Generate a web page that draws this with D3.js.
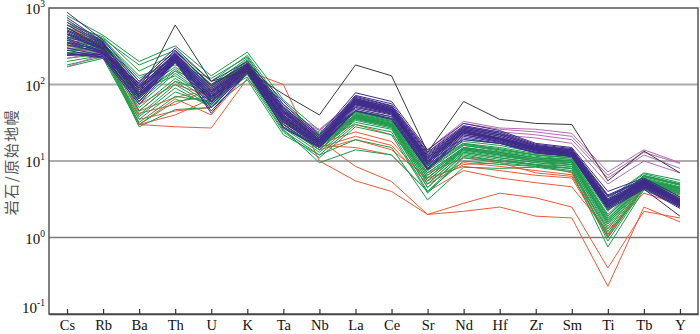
<!DOCTYPE html>
<html><head><meta charset="utf-8">
<script src="https://cdn.jsdelivr.net/npm/d3@7"></script>
<style>body{margin:0;background:#fff}svg{display:block}</style>
</head><body>
<svg id="c" width="700" height="334"></svg>
<script>
const elements = ["Cs","Rb","Ba","Th","U","K","Ta","Nb","La","Ce","Sr","Nd","Hf","Zr","Sm","Ti","Tb","Y"];
const yTickValues = [0.1, 1, 10, 100, 1000];
const yTickExponents = ["-1","0","1","2","3"];
const yTitle = "岩石/原始地幔";

const blackSeries = [
  [550,300,75,600,110,150,75,40,180,130,13,60,35,31,30,5.5,13.5,7]
];
const redSeries = [
  [550,350,30,28,27,120,35,15,21,16,5,9,9.5,7,6.3,1.1,4.9,3.4],
  [450,330,30,65,40,140,30,14,19,14,6,8.5,7.5,6.5,6,1.0,4.5,3.2],
  [380,300,42,55,90,170,40,16,15,12,4,7.5,6,5.2,4.6,1.2,3.8,2.7],
  [350,280,30,40,65,150,100,10,5.5,4,2,2.2,2.5,1.9,1.8,0.23,2.5,1.6],
  [320,260,35,45,50,160,30,19,8.5,5.4,2,2.8,3.8,3.3,2.5,0.4,2.2,1.8],
  [500,320,55,100,70,180,45,20,30,22,7,11,10,9,7,1.3,5,3.8],
  [600,360,45,68,85,175,38,17,24,18,5.5,9.5,8.5,7.5,6.6,1.05,4.7,3.3]
];
const greenSeries = [
  [800,440,200,320,130,265,63,25,63,45,11.5,19,17,14,12.7,3.2,7,5.6],
  [650,400,180,280,110,240,55,23,55,42,10,18,16,13,12,3.0,6.8,5.2],
  [600,420,150,250,100,220,50,22,45,38,9,17,15,12.5,11.5,2.6,6.5,5.0],
  [500,380,120,220,95,200,45,20,42,34,8,16,14,12,11,2.3,6.2,4.8],
  [450,360,100,200,90,210,42,19,40,33,7.5,16,13.5,11.5,10.5,2.2,6.0,4.6],
  [420,350,90,190,85,190,40,18,40,32,7,15,13,11,10.5,2.0,5.8,4.5],
  [380,330,80,170,80,185,38,17,39,31,6.5,15,13,11,10,1.9,5.7,4.4],
  [350,320,70,160,75,180,36,17,38,30,6,14.5,12.5,10.5,10,1.8,5.6,4.3],
  [330,300,60,150,70,175,35,16,38,30,6,14,12,10.5,9.5,1.7,5.5,4.2],
  [300,290,55,140,65,170,34,16,37,29,5.5,14,12,10,9.5,1.6,5.4,4.1],
  [280,280,50,120,60,165,33,15,36,29,5.5,13.5,11.5,10,9,1.6,5.3,4.0],
  [260,270,45,110,55,160,32,15,36,28,5,13,11,9.5,9,1.5,5.2,3.9],
  [240,260,40,100,52,150,30,14,35,28,5,13,11,9.5,8.5,1.4,5.1,3.8],
  [220,250,38,90,50,145,28,14,34,27,4.5,12.5,10.5,9,8.5,1.3,5.0,3.7],
  [200,240,35,80,55,140,27,13,32,26,4.5,12,10,9,8,1.2,4.8,3.6],
  [180,230,32,70,60,135,25,12,30,24,4,11.5,10,8.8,8,1.1,4.6,3.4],
  [170,220,30,60,70,125,24,11,28,22,3.8,11,9.5,8.5,7.5,1.0,4.5,3.2],
  [250,260,28,47,50,115,22,12,19,15,3.1,8.3,8,8.3,7.2,0.75,4.2,2.6],
  [400,350,110,240,95,200,46,21,44,36,9,17,14,12,11,2.4,6.3,4.9],
  [550,390,130,180,120,230,48,21,43,35,8.5,16.5,14.5,12,11,2.5,6.4,5.0],
  [320,310,65,200,90,190,37,16,41,33,7,15,13,11,10,1.9,5.8,4.4],
  [350,340,85,130,65,175,33,15,39,31,6.5,14.5,12.5,10.5,9.5,1.7,5.5,4.3],
  [450,370,45,110,80,160,30,14,37,30,6,14,12,10,9,1.5,5.2,4.0],
  [280,300,75,150,100,170,26,9.5,14,12,4,10,9,8.5,8,0.9,4.4,3.0]
];
const pinkSeries = [
  [170,250,90,260,85,170,45,26,62,52,14,33,27,26,23,7.2,14,9.5],
  [220,270,95,240,90,160,42,25,58,50,13,31,26,24,21,6.5,13,9.3],
  [300,260,80,230,75,175,38,22,55,45,11,28,24,22,19,6,12,8],
  [250,240,100,200,95,150,35,24,50,42,12,26,22,20,17,5,10,7]
];
const purpleSeries = [
  [880,380,110,300,110,200,60,22,78,60,14,31,25,17,15,4.0,6.0,3.4],
  [700,350,100,280,95,190,55,21,72,56,13,29,24,16.5,14.5,3.6,5.8,3.2],
  [600,330,90,260,85,180,50,20,68,52,12,28,23,16,14,3.4,5.6,3.1],
  [550,320,95,250,80,175,48,19,65,50,11.5,27,22,15.5,14,3.2,5.5,3.0],
  [500,300,80,240,75,170,45,19,64,48,11,26,21,15,13.5,3.0,5.4,2.9],
  [480,290,75,230,70,165,42,18,62,47,10.5,25,20,15,13,3.0,5.3,2.9],
  [450,280,70,220,65,160,40,18,60,46,10,25,20,14.5,13,2.9,5.2,2.8],
  [420,300,85,235,72,170,38,17,58,45,10,24,19.5,14.5,12.5,2.8,5.0,2.8],
  [400,270,65,210,60,155,36,17,57,44,9.5,24,19,14,12.5,2.7,5.0,2.7],
  [380,260,90,220,68,165,35,16.5,55,43,9,23,19,14,12,2.7,4.9,2.7],
  [350,250,60,200,55,150,34,16,54,42,9,23,18.5,14,12,2.6,4.8,2.6],
  [330,260,70,215,62,160,33,16,52,41,8.5,22,18,13.5,12,2.6,4.7,2.6],
  [300,240,75,205,58,150,32,15.5,50,40,8,22,18,13.5,11.5,2.5,4.6,2.5],
  [280,230,65,200,50,145,30,15,48,38,8,21,17.5,13,11.5,2.5,4.5,2.5],
  [260,220,55,195,45,140,28,15,46,36,7.8,20,17,13,11.5,2.4,4.4,2.4],
  [250,230,60,210,42,150,27,15,45,35,7.6,19,17,12.7,11.5,2.3,4.3,1.9],
  [240,250,105,270,100,185,52,20,70,53,12.5,28,23,16,14,3.5,5.7,3.1],
  [650,340,85,250,90,180,46,19,66,50,11,27,22,15.5,13.5,3.1,5.5,3.0],
  [750,360,72,225,78,170,43,18,61,47,10,25,20,15,13,2.9,5.3,2.9],
  [520,310,68,215,60,160,39,17.5,59,45,9.5,24,19.5,14.5,12.5,2.8,5.1,2.8],
  [460,290,95,240,82,175,44,18.5,63,48,10.5,26,21,15,13.5,3.0,5.2,2.9],
  [360,270,80,225,66,160,37,17,56,44,9.5,24,19,14,12.5,2.7,5.0,2.7]
];

const svg = d3.select("#c");
const L = 49, R = 698, T = 8, B = 314;
const x = d3.scalePoint().domain(elements).range([L, R]).padding(0.5);
const y = d3.scaleLog().domain([0.1, 1000]).range([B, T]);

// gridlines
const gridStyle = {1:{c:"#7a7a7a",w:1.3},10:{c:"#5a5a5a",w:1},100:{c:"#aaaaaa",w:2}};
svg.append("g").selectAll("line").data([1,10,100]).join("line")
  .attr("x1", L).attr("x2", R)
  .attr("y1", d => y(d)).attr("y2", d => y(d))
  .attr("stroke", d => gridStyle[d].c).attr("stroke-width", d => gridStyle[d].w);

const line = d3.line().x((d, i) => x(elements[i])).y(d => y(d));
const groups = [
  {data: redSeries, color: "#ef5a3a"},
  {data: greenSeries, color: "#1f9a4c"},
  {data: pinkSeries, color: "#b56cb5"},
  {data: purpleSeries, color: "#3e2a8a"},
  {data: blackSeries, color: "#3a3a3a"}
];
const gl = svg.append("g");
groups.forEach(g => {
  gl.append("g").selectAll("path").data(g.data).join("path")
    .attr("d", line).attr("fill", "none")
    .attr("stroke", g.color).attr("stroke-width", 1);
});

// frame
svg.append("rect").attr("x", L).attr("y", T).attr("width", R - L).attr("height", B - T)
  .attr("fill", "none").attr("stroke", "#555").attr("stroke-width", 1.5);

// x axis
const xa = svg.append("g").attr("transform", `translate(0,${B})`)
  .call(d3.axisBottom(x).tickSizeInner(-5).tickSizeOuter(0));
xa.select(".domain").attr("stroke", "#444").attr("stroke-width", 1.5);
xa.selectAll(".tick line").attr("stroke", "#333").attr("stroke-width", 1.2);
xa.selectAll(".tick text").attr("y", 16).attr("dy", 0)
  .attr("font-family", "'Liberation Serif','Times New Roman',serif")
  .attr("font-size", 14.5).attr("fill", "#111");

// y tick labels
const yl = svg.append("g").attr("font-family", "'Liberation Serif','Times New Roman',serif").attr("fill", "#111");
yTickValues.forEach((v, i) => {
  const by = Math.max(14, Math.min(313, y(v) + 6));
  const t = yl.append("text").attr("x", 45).attr("y", by).attr("text-anchor", "end").attr("font-size", 15);
  t.append("tspan").text("10");
  t.append("tspan").attr("dy", -7).attr("font-size", 9.5).text(yTickExponents[i]);
});

// y title
svg.append("text").attr("transform", "translate(17,162) rotate(-90)")
  .attr("text-anchor", "middle")
  .attr("font-family", "'Noto Sans CJK SC',sans-serif").attr("font-size", 15)
  .attr("fill", "#555").attr("letter-spacing", 1.5)
  .text(yTitle);
</script>
</body></html>
